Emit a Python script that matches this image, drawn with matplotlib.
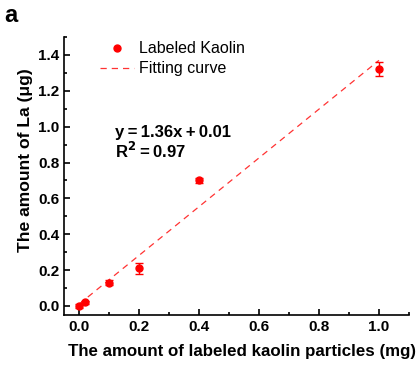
import matplotlib
matplotlib.use("Agg")
import matplotlib.pyplot as plt
import numpy as np
from matplotlib.ticker import MultipleLocator
from matplotlib.lines import Line2D

plt.rcParams['font.family'] = ['Liberation Sans', 'DejaVu Sans']

# data
kaolin_mg = [0.0, 0.02, 0.1, 0.2, 0.4, 1.0]
la_ug = [0.0, 0.02, 0.13, 0.21, 0.70, 1.32]
la_err = [0.01, 0.01, 0.012, 0.03, 0.012, 0.04]
slope, intercept = 1.36, 0.01
fit_x = [0.0, 1.0]

fig = plt.figure(figsize=(4.19, 3.67), dpi=100)
ax = fig.add_axes([0.153, 0.142, 0.823, 0.757])

ax.errorbar(kaolin_mg, la_ug, yerr=la_err, fmt='o', color='red', ms=5,
            capsize=3, elinewidth=1, capthick=1, zorder=3)
fx = np.array(fit_x)
ax.plot(fx, slope * fx + intercept, '--', color='#ff3333', lw=0.9,
        dashes=(5, 4))

ax.set_xlim(-0.05, 1.1)
ax.set_ylim(-0.05, 1.5)
ax.xaxis.set_major_locator(MultipleLocator(0.2))
ax.xaxis.set_minor_locator(MultipleLocator(0.1))
ax.yaxis.set_major_locator(MultipleLocator(0.2))
ax.yaxis.set_minor_locator(MultipleLocator(0.1))
ax.tick_params(which='both', direction='in', width=1.2)
ax.tick_params(which='major', length=4, labelsize=11)
ax.tick_params(which='minor', length=2.5)
for lab in ax.get_xticklabels() + ax.get_yticklabels():
    lab.set_fontweight('bold')
ax.spines['top'].set_visible(False)
ax.spines['right'].set_visible(False)
for s in ('left', 'bottom'):
    ax.spines[s].set_linewidth(1.2)

ax.set_xlabel('The amount of labeled kaolin particles (mg)', fontsize=12.2,
              fontweight='bold', labelpad=2)
ax.set_ylabel('The amount of La (\u03bcg)', fontsize=12.6, fontweight='bold', labelpad=4)
ax.xaxis.set_label_coords(0.516, -0.105)
ax.yaxis.set_label_coords(-0.09, 0.557)

handles = [Line2D([], [], color='red', marker='o', ls='none', ms=5),
           Line2D([], [], color='#ff3333', ls='--', lw=0.9, dashes=(5, 4))]
ax.legend(handles, ['Labeled Kaolin', 'Fitting curve'], loc='upper left',
          bbox_to_anchor=(0.063, 1.036), frameon=False, fontsize=11.5,
          handlelength=2.1, handletextpad=0.3, labelspacing=0.3)

ax.text(0.12, 0.943, 'y\u2009=\u20091.36x\u2009+\u20090.01', fontsize=12,
        fontweight='bold', va='baseline')
ax.text(0.12, 0.825, 'R$^\\mathbf{2}$\u2009=\u20090.97', fontsize=12,
        fontweight='bold', va='baseline')

fig.text(0.01, 0.94, 'a', fontsize=17, fontweight='bold', va='baseline')

fig.savefig('out.png', dpi=100)
